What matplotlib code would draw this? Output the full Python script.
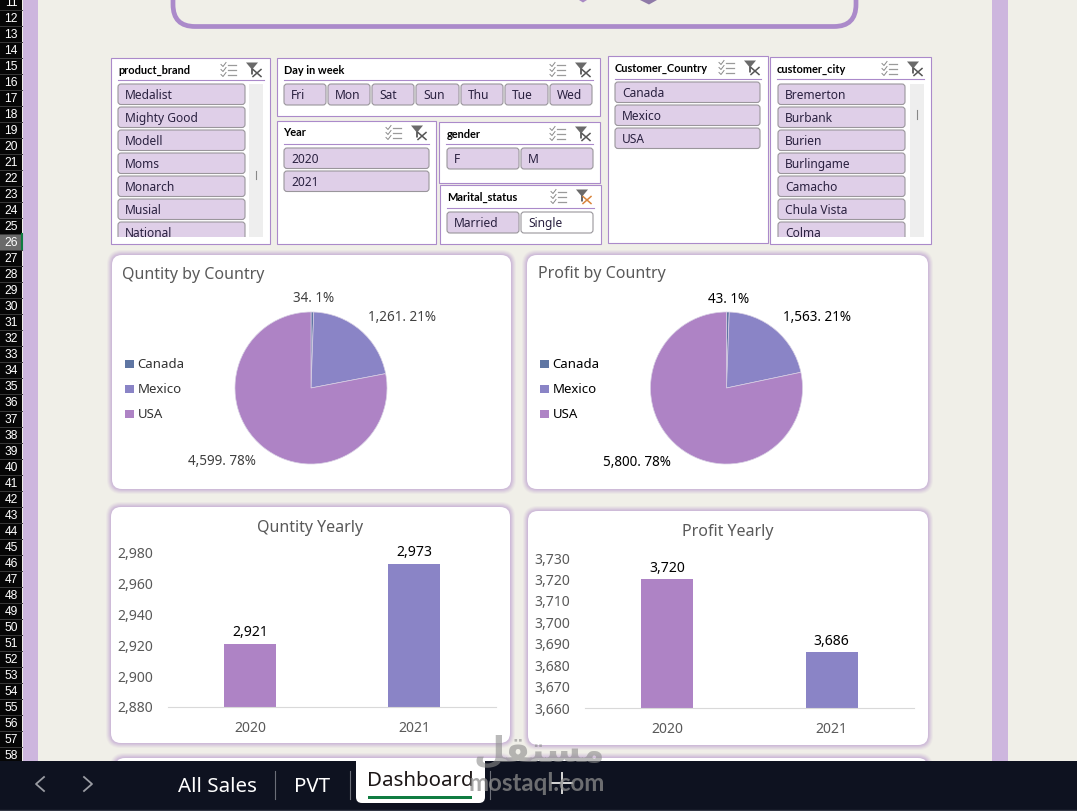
import matplotlib
matplotlib.use("Agg")
import matplotlib.pyplot as plt
from matplotlib.patches import FancyBboxPatch, Rectangle, Polygon

W, H = 1077, 811
PT = 72.0 / 100.0  # pixels to points at dpi 100

plt.rcParams['font.family'] = ['Noto Sans', 'DejaVu Sans']

countries = ["Canada", "Mexico", "USA"]
qty_country = [34, 1261, 4599]
qty_share = [1, 21, 78]
profit_country = [43, 1563, 5800]
profit_share = [1, 21, 78]

years = ["2020", "2021"]
qty_yearly = [2921, 2973]
profit_yearly = [3720, 3686]
qty_ticks = [2880, 2900, 2920, 2940, 2960, 2980]
profit_ticks = [3660, 3670, 3680, 3690, 3700, 3710, 3720, 3730]

brands = ["Medalist", "Mighty Good", "Modell", "Moms", "Monarch", "Musial", "National"]
cities = ["Bremerton", "Burbank", "Burien", "Burlingame", "Camacho", "Chula Vista", "Colma"]
days = ["Fri", "Mon", "Sat", "Sun", "Thu", "Tue", "Wed"]
day_edges = [(284, 326), (328, 370), (372, 414), (416, 459), (461, 503), (505, 548), (550, 592)]
sheets = ["All Sales", "PVT", "Dashboard"]

BG = "#f0efe8"
SIDE = "#cdb6de"
EDGE = "#ab8aca"
BTN = "#dfcfe8"
BTN_EDGE = "#9a969c"
PIE_COLORS = ["#5f76a3", "#8a84c6", "#ae83c5"]
BAR_COLORS = ["#ae83c5", "#8a84c6"]
GREY = "#595959"

fig = plt.figure(figsize=(W / 100, H / 100), dpi=100, facecolor=BG)
bg = fig.add_axes([0, 0, 1, 1], zorder=0)
bg.set_xlim(0, W)
bg.set_ylim(H, 0)
bg.axis("off")


def px_axes(x0, y0, x1, y1):
    return fig.add_axes([x0 / W, 1 - y1 / H, (x1 - x0) / W, (y1 - y0) / H], zorder=2)


def rrect(x0, y0, x1, y1, r, fc, ec="none", lw=0, alpha=None, z=1):
    p = FancyBboxPatch((x0 + r, y0 + r), x1 - x0 - 2 * r, y1 - y0 - 2 * r,
                       boxstyle="round,pad=%g,rounding_size=%g" % (r, r),
                       fc=fc, ec=ec, lw=lw, alpha=alpha, zorder=z)
    bg.add_patch(p)
    return p


def label(x, y, s, size, color="#222222", ha="left", va="center", weight="normal", z=5, **kw):
    # the font sits a little high when centred, hence the nudge
    return bg.text(x, y + 1.5, s, fontsize=size * PT, color=color, ha=ha, va=va,
                   fontweight=weight, zorder=z, **kw)


# small select-all and clear-filter icons in the slicer headers
def header_icons(x, y, x_color="#555555"):
    for i in range(3):
        yy = y - 5 + i * 5
        bg.plot([x, x + 2, x + 5], [yy, yy + 2, yy - 2], color="#8a8a8a", lw=0.7, zorder=5)
        bg.plot([x + 7, x + 15], [yy, yy], color="#9a9a9a", lw=0.9, zorder=5)
    fx = x + 25
    bg.add_patch(Polygon([(fx, y - 7), (fx + 12, y - 7), (fx + 7, y - 1), (fx + 7, y + 5), (fx + 5, y + 5), (fx + 5, y - 1)],
                         fc="#6a6a6a", ec="none", zorder=5))
    bg.plot([fx + 7, fx + 15], [y, y + 7], color=x_color, lw=1.1, zorder=6)
    bg.plot([fx + 15, fx + 7], [y, y + 7], color=x_color, lw=1.1, zorder=6)


def slicer(x0, y0, x1, y1, title, line_y, line_x1, icon_x, x_color="#555555", title_x=None):
    bg.add_patch(Rectangle((x0, y0), x1 - x0, y1 - y0, fc="white", ec=EDGE, lw=0.8, zorder=2))
    label(title_x or x0 + 7, y0 + 10.5, title, 11, color="black", weight="bold", family="Lato")
    bg.plot([x0 + 7, line_x1], [line_y, line_y], color=EDGE, lw=0.8, zorder=3)
    header_icons(icon_x, y0 + 11.5, x_color)


def button(x0, y0, x1, y1, s, fc=BTN, clip=None):
    p = rrect(x0, y0, x1, y1, 3, fc, ec=BTN_EDGE, lw=0.8, z=3)
    t = label(x0 + 7, (y0 + y1) / 2 - 0.5, s, 12, color="#2a2140")
    if clip is not None:
        p.set_clip_path(clip)
        t.set_clip_path(clip)


def list_buttons(x0, x1, y0, items, clip_bottom=None):
    clip = None
    if clip_bottom is not None:
        clip = Rectangle((x0 - 2, y0 - 2), x1 - x0 + 4, clip_bottom - y0 + 2,
                         transform=bg.transData)
    for i, s in enumerate(items):
        top = y0 + i * 23
        button(x0, top, x1, top + 20.5, s, clip=clip)


def panel(x0, y0, x1, y1):
    # soft lilac halo built from stacked translucent outlines
    for grow, a in [(5, 0.10), (4, 0.14), (3, 0.18), (2, 0.24), (1, 0.30)]:
        rrect(x0 - grow, y0 - grow, x1 + grow, y1 + grow, 10 + grow, "#bfa2d2", alpha=a)
    rrect(x0, y0, x1, y1, 10, "white", z=1.5)


def pie_chart(cx, cy, r, values):
    ax = px_axes(cx - r, cy - r, cx + r, cy + r)
    ax.pie(values, colors=PIE_COLORS, startangle=90, counterclock=False, radius=1,
           wedgeprops={"edgecolor": "#d8d0e4", "linewidth": 0.5})
    ax.set_xlim(-1, 1)
    ax.set_ylim(-1, 1)
    ax.patch.set_visible(False)


def legend(x, color):
    for i, c in enumerate(countries):
        y = 363.5 + i * 25
        bg.add_patch(Rectangle((x, y - 4), 8.5, 8, fc=PIE_COLORS[i], ec="none", zorder=4))
        label(x + 12.5, y - 0.5, c, 13.2, color=color)


def bar_chart(x0, y0, x1, y1, values, ticks, colors):
    ax = px_axes(x0, y0, x1, y1)
    ax.patch.set_visible(False)
    bars = ax.bar(years, values, width=0.315, color=colors)
    ax.bar_label(bars, fmt="{:,.0f}", fontsize=14 * PT, color="black", padding=2.5)
    ax.set_xlim(-0.5, 1.5)
    ax.set_ylim(ticks[0], ticks[-1])
    ax.set_yticks(ticks)
    ax.set_yticklabels(["{:,}".format(t) for t in ticks])
    ax.tick_params(axis="both", length=0, labelsize=14 * PT, labelcolor=GREY)
    ax.tick_params(axis="x", pad=10)
    ax.tick_params(axis="y", pad=10.5)
    for s in ["top", "left", "right"]:
        ax.spines[s].set_visible(False)
    ax.spines["bottom"].set_color("#d9d9d9")
    return ax


# sheet frame: purple side strips and the rounded banner above the slicers
bg.add_patch(Rectangle((23, 0), 15, H, fc=SIDE, ec="none", zorder=0.5))
bg.add_patch(Rectangle((992, 0), 16, H, fc=SIDE, ec="none", zorder=0.5))
rrect(173, -40, 856, 26.5, 22, "none", ec=EDGE, lw=3.4, z=1)
bg.add_patch(Polygon([(579, 0), (587, 0), (583, 2.5)], fc="#a98ac4", ec="none", zorder=1))
bg.add_patch(Polygon([(640, 0), (657, 0), (649, 4.5)], fc="#8f7aa8", ec="none", zorder=1))

# row headers
bg.add_patch(Rectangle((0, 0), 22, H, fc="#060606", ec="none", zorder=1))
for row in range(11, 59):
    y = 2 + (row - 11) * 16.02
    if row == 26:
        bg.add_patch(Rectangle((0, y - 8), 22, 16, fc="#6a6a6a", ec="none", zorder=1.2))
        bg.plot([22, 22], [y - 8, y + 8], color="#107c41", lw=1.5, zorder=1.3)
    bg.plot([0, 22], [y + 8, y + 8], color="#3a3a3a", lw=0.7, zorder=1.3)
    label(11, y - 0.5, str(row), 12, color="white", ha="center",
          family=["Liberation Sans Narrow", "Liberation Sans"])

# slicers
slicer(111, 58, 270, 244, "product_brand", 80, 264, 221)
bg.add_patch(Rectangle((249, 84), 14, 153, fc="#eeeeee", ec="none", zorder=2.5))
bg.plot([255.5, 255.5], [171, 179], color="#888888", lw=0.8, zorder=3)
list_buttons(118, 245, 84, brands, clip_bottom=237)

slicer(277, 58, 600, 116, "Day in week", 80, 593, 550)
for (a, b), s in zip(day_edges, days):
    button(a, 84, b, 105, s)

slicer(277, 121, 436, 244, "Year", 144, 429, 386, title_x=283.5)
list_buttons(284, 429, 148, years)

slicer(439, 122, 600, 183, "gender", 144, 593, 550, title_x=447)
button(447, 148, 519, 169, "F")
button(521, 148, 593, 169, "M")

slicer(440, 185, 601, 244, "Marital_status", 208, 594, 551, x_color="#d9843b")
button(447, 212, 519, 233, "Married")
button(521, 212, 593, 233, "Single", fc="white")

slicer(608, 56, 768, 243, "Customer_Country", 79, 761, 719)
list_buttons(615, 760, 82, countries)

slicer(770, 57, 931, 244, "customer_city", 79, 924, 882)
bg.add_patch(Rectangle((910, 84), 14, 153, fc="#eeeeee", ec="none", zorder=2.5))
bg.plot([917, 917], [110, 119], color="#888888", lw=0.8, zorder=3)
list_buttons(778, 905, 84, cities, clip_bottom=237)

# chart cards
panel(112, 255, 511, 489)
panel(527, 255, 928, 489)
panel(111, 507, 510, 743)
panel(528, 511, 928, 745)
panel(115, 758, 510, 800)
panel(528, 758, 928, 800)

# pies
pie_chart(311, 388, 76, qty_country)
pie_chart(726.5, 388, 76, profit_country)
label(122, 273.5, "Quntity by Country", 16, color=GREY)
label(538.5, 272.5, "Profit by Country", 16, color=GREY)
legend(125, "#333333")
legend(540, "black")

qty_pos = [(314, 297.5), (402, 316), (222, 460)]
profit_pos = [(729, 298), (817, 316), (637, 461)]
for i in range(3):
    label(qty_pos[i][0], qty_pos[i][1], "{:,}. {}%".format(qty_country[i], qty_share[i]),
          13.5, color="#404040", ha="center")
    label(profit_pos[i][0], profit_pos[i][1], "{:,}. {}%".format(profit_country[i], profit_share[i]),
          13.5, color="black", ha="center")

# yearly bars
bar_chart(168, 553, 496, 707, qty_yearly, qty_ticks, BAR_COLORS)
bar_chart(585, 558, 914, 708, profit_yearly, profit_ticks, BAR_COLORS)
label(310, 526.5, "Quntity Yearly", 16, color=GREY, ha="center")
label(728, 530.5, "Profit Yearly", 16, color=GREY, ha="center")

# sheet tab bar
bg.add_patch(Rectangle((0, 761), W, 50, fc="#0e1220", ec="none", zorder=7))
bg.plot([0, W], [810, 810], color="#333744", lw=1, zorder=7.1)
bg.plot([44, 36, 44], [777, 784, 791], color="#9a9ca3", lw=1.3, zorder=8)
bg.plot([84, 92, 84], [777, 784, 791], color="#9a9ca3", lw=1.3, zorder=8)
rrect(356, 761, 485, 803, 6, "white", z=7.5)
bg.add_patch(Rectangle((356, 761), 129, 10, fc="white", ec="none", zorder=7.5))
bg.add_patch(Rectangle((368, 796), 104, 3, fc="#107c41", ec="none", zorder=8))
label(217, 785, sheets[0], 20.5, color="white", ha="center", z=8)
label(312, 785, sheets[1], 20.5, color="white", ha="center", z=8)
label(420, 780, sheets[2], 20.5, color="#1c1616", ha="center", z=8)
for x in (275, 350, 490):
    bg.plot([x, x], [771, 799], color="#6b6e78", lw=0.8, zorder=8)
bg.plot([552, 572], [783, 783], color="#d8d8d8", lw=1.4, zorder=8)
bg.plot([562, 562], [773, 793], color="#d8d8d8", lw=1.4, zorder=8)

# site watermark
label(539, 750, "\ufede\ufed8\ufe98\ufeb4\ufee3", 36, color="#8c8c8c", ha="center", z=9, alpha=0.6,
      family="DejaVu Sans", weight="bold")
label(537, 782, "mostaql.com", 24, color="#8c8c8c", ha="center", z=9, alpha=0.75, weight="bold", family="Lato")

fig.savefig("out.png", dpi=100, facecolor=BG)
